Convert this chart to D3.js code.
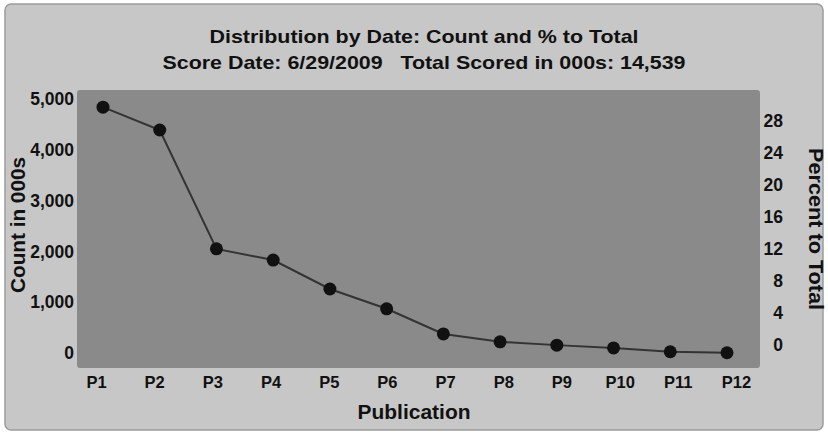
<!DOCTYPE html>
<html>
<head>
<meta charset="utf-8">
<script src="https://cdn.jsdelivr.net/npm/d3@7"></script>
<style>
  html, body { margin: 0; padding: 0; background: #ffffff; }
  svg { display: block; font-family: "Liberation Sans", Arial, Helvetica, sans-serif; }
</style>
</head>
<body>
<svg id="chart" width="828" height="432"></svg>
<script>
// ---- data ----
const categories = ["P1","P2","P3","P4","P5","P6","P7","P8","P9","P10","P11","P12"];
const counts = [4840, 4390, 2050, 1830, 1260, 870, 375, 220, 155, 100, 25, 5];
const countTicks = [0, 1000, 2000, 3000, 4000, 5000];
const percentTicks = [0, 4, 8, 12, 16, 20, 24, 28];
const titleText = "Distribution by Date: Count and % to Total";
const subtitleText = "Score Date: 6/29/2009   Total Scored in 000s: 14,539";
const xTitle = "Publication";
const yLeftTitle = "Count in 000s";
const yRightTitle = "Percent to Total";

// ---- layout ----
const svg = d3.select("#chart");
const plot = { left: 77, top: 90, right: 760, bottom: 368 };

svg.append("rect")
  .attr("x", 5).attr("y", 4).attr("width", 818).attr("height", 426)
  .attr("rx", 6)
  .attr("fill", "#c7c7c7").attr("stroke", "#9c9c9c").attr("stroke-width", 1.5);

svg.append("rect")
  .attr("x", plot.left).attr("y", plot.top)
  .attr("width", plot.right - plot.left).attr("height", plot.bottom - plot.top)
  .attr("rx", 3)
  .attr("fill", "#8a8a8a");

// ---- scales ----
const x = d3.scalePoint().domain(categories).range([103, 727]);
const xLabels = d3.scalePoint().domain(categories).range([96, 736]);
const y = d3.scaleLinear().domain([0, 5000]).range([353, 99]);
const yRight = d3.scaleLinear().domain([0, 28]).range([345, 121]);

// ---- axes ----
const leftAxis = svg.append("g")
  .attr("transform", "translate(" + (plot.left + 3) + ",0)")
  .call(d3.axisLeft(y).tickValues(countTicks).tickFormat(d3.format(",")).tickSize(0).tickPadding(6));
leftAxis.select(".domain").remove();
leftAxis.selectAll("text")
  .attr("font-size", 17.5).attr("font-weight", "bold").attr("fill", "#111")
  .attr("font-family", "Liberation Sans, Arial, sans-serif");

const rightAxis = svg.append("g")
  .attr("transform", "translate(783,0)")
  .call(d3.axisLeft(yRight).tickValues(percentTicks).tickSize(0).tickPadding(0));
rightAxis.select(".domain").remove();
rightAxis.selectAll("text")
  .attr("font-size", 17.5).attr("font-weight", "bold").attr("fill", "#111")
  .attr("font-family", "Liberation Sans, Arial, sans-serif");

const bottomAxis = svg.append("g")
  .attr("transform", "translate(0," + plot.bottom + ")")
  .call(d3.axisBottom(xLabels).tickSize(0).tickPadding(8));
bottomAxis.select(".domain").remove();
bottomAxis.selectAll("text")
  .attr("font-size", 16.5).attr("font-weight", "bold").attr("fill", "#111")
  .attr("font-family", "Liberation Sans, Arial, sans-serif");

// ---- line and points ----
const line = d3.line()
  .x((d, i) => x(categories[i]))
  .y(d => y(d));

svg.append("path")
  .datum(counts)
  .attr("d", line)
  .attr("fill", "none")
  .attr("stroke", "#333")
  .attr("stroke-width", 2);

svg.selectAll("circle.pt")
  .data(counts)
  .join("circle")
  .attr("class", "pt")
  .attr("cx", (d, i) => x(categories[i]))
  .attr("cy", d => y(d))
  .attr("r", 6.5)
  .attr("fill", "#111");

// ---- titles ----
svg.append("text")
  .attr("x", 424).attr("y", 43)
  .attr("text-anchor", "middle")
  .attr("font-size", 18.5).attr("font-weight", "bold").attr("fill", "#111")
  .attr("textLength", 429).attr("lengthAdjust", "spacingAndGlyphs")
  .text(titleText);

svg.append("text")
  .attr("x", 424).attr("y", 69)
  .attr("text-anchor", "middle")
  .attr("font-size", 18.5).attr("font-weight", "bold").attr("fill", "#111")
  .style("white-space", "pre")
  .attr("textLength", 523).attr("lengthAdjust", "spacingAndGlyphs")
  .text(subtitleText);

svg.append("text")
  .attr("x", 414).attr("y", 419)
  .attr("text-anchor", "middle")
  .attr("font-size", 20.5).attr("font-weight", "bold").attr("fill", "#111")
  .attr("textLength", 113).attr("lengthAdjust", "spacingAndGlyphs")
  .text(xTitle);

svg.append("text")
  .attr("transform", "translate(25,225) rotate(-90)")
  .attr("text-anchor", "middle")
  .attr("font-size", 20).attr("font-weight", "bold").attr("fill", "#111")
  .attr("textLength", 136).attr("lengthAdjust", "spacingAndGlyphs")
  .text(yLeftTitle);

svg.append("text")
  .attr("transform", "translate(809,229) rotate(90)")
  .attr("text-anchor", "middle")
  .attr("font-size", 20).attr("font-weight", "bold").attr("fill", "#111")
  .attr("textLength", 162).attr("lengthAdjust", "spacingAndGlyphs")
  .text(yRightTitle);
</script>
</body>
</html>
